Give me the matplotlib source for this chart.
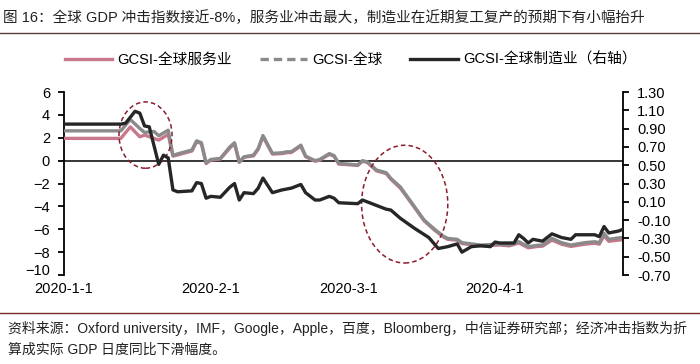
import matplotlib
matplotlib.use("Agg")
import matplotlib.pyplot as plt
import matplotlib.dates as mdates
import matplotlib.transforms as mtransforms
from matplotlib.patches import Ellipse
from matplotlib.lines import Line2D
import pandas as pd

plt.rcParams['font.family'] = ['Liberation Sans', 'Noto Sans CJK SC', 'DejaVu Sans']

# left axis series (global / services), shared dates
dates_lr = ['2020-01-01', '2020-01-13', '2020-01-15', '2020-01-17', '2020-01-18', '2020-01-20',
            '2020-01-21', '2020-01-23', '2020-01-24', '2020-01-25', '2020-01-28', '2020-01-29',
            '2020-01-30', '2020-01-31', '2020-02-01', '2020-02-03', '2020-02-05', '2020-02-06',
            '2020-02-07', '2020-02-08', '2020-02-10', '2020-02-11', '2020-02-12', '2020-02-14',
            '2020-02-16', '2020-02-17', '2020-02-18', '2020-02-20', '2020-02-21', '2020-02-23',
            '2020-02-24', '2020-02-26', '2020-02-27', '2020-02-28', '2020-03-01', '2020-03-03',
            '2020-03-04', '2020-03-05', '2020-03-07', '2020-03-09', '2020-03-10', '2020-03-12',
            '2020-03-15', '2020-03-17', '2020-03-19', '2020-03-21', '2020-03-22', '2020-03-24',
            '2020-03-25', '2020-03-29', '2020-04-02', '2020-04-04', '2020-04-06', '2020-04-08',
            '2020-04-10', '2020-04-11', '2020-04-13', '2020-04-15', '2020-04-17', '2020-04-20',
            '2020-04-22', '2020-04-23', '2020-04-24', '2020-04-25', '2020-04-28']

gcsi_global = [2.61, 2.61, 3.6, 2.82, 2.47, 2.56, 2.18, 2.67, 0.45, 0.6, 0.93, 1.74,
               1.57, -0.18, 0.11, 0.2, 1.2, 1.57, -0.1, 0.34, 0.49, 1.07, 2.2, 0.64,
               0.69, 0.78, 0.78, 1.36, 0.4, 0.0, 0.11, 0.62, 0.45, -0.24, -0.3, -0.38,
               0.0, -0.1, -0.82, -1.05, -1.55, -2.3, -4.03, -5.19, -5.92, -6.59, -6.8, -6.88,
               -7.17, -7.38, -7.29, -7.38, -7.09, -7.52, -7.4, -7.38, -6.8, -7.17, -7.38, -7.17,
               -7.09, -7.17, -6.36, -6.88, -6.7]

gcsi_services = [1.95, 1.95, 2.96, 2.09, 2.24, 1.95, 1.8, 2.3, 0.4, 0.5, 0.85, 1.65,
                 1.5, -0.25, 0.05, 0.15, 1.1, 1.5, -0.15, 0.3, 0.42, 1.0, 2.1, 0.58,
                 0.62, 0.7, 0.72, 1.28, 0.35, -0.05, 0.05, 0.55, 0.4, -0.3, -0.35, -0.42,
                 -0.05, -0.15, -0.9, -1.12, -1.62, -2.4, -4.1, -5.25, -6.0, -6.65, -6.88, -6.95,
                 -7.25, -7.45, -7.38, -7.45, -7.2, -7.62, -7.5, -7.48, -6.95, -7.3, -7.5, -7.3,
                 -7.22, -7.3, -6.55, -7.05, -6.9]

# manufacturing, right axis
dates_mfg = ['2020-01-01', '2020-01-13', '2020-01-14', '2020-01-16', '2020-01-17', '2020-01-18',
             '2020-01-19', '2020-01-21', '2020-01-22', '2020-01-23', '2020-01-24', '2020-01-25',
             '2020-01-28', '2020-01-29', '2020-01-30', '2020-01-31', '2020-02-01', '2020-02-03',
             '2020-02-05', '2020-02-06', '2020-02-07', '2020-02-08', '2020-02-10', '2020-02-11',
             '2020-02-12', '2020-02-14', '2020-02-16', '2020-02-17', '2020-02-18', '2020-02-20',
             '2020-02-21', '2020-02-23', '2020-02-24', '2020-02-26', '2020-02-27', '2020-02-28',
             '2020-03-03', '2020-03-04', '2020-03-06', '2020-03-08', '2020-03-09', '2020-03-10',
             '2020-03-12', '2020-03-15', '2020-03-18', '2020-03-20', '2020-03-22', '2020-03-24',
             '2020-03-25', '2020-03-27', '2020-03-29', '2020-03-31', '2020-04-01', '2020-04-02',
             '2020-04-05', '2020-04-06', '2020-04-07', '2020-04-08', '2020-04-09', '2020-04-11',
             '2020-04-13', '2020-04-15', '2020-04-17', '2020-04-18', '2020-04-22', '2020-04-23',
             '2020-04-24', '2020-04-25', '2020-04-27', '2020-04-28']

gcsi_mfg = [0.95, 0.95, 0.96, 1.09, 1.07, 0.93, 0.92, 0.51, 0.61, 0.58, 0.23, 0.21,
            0.22, 0.31, 0.30, 0.14, 0.16, 0.15, 0.26, 0.30, 0.12, 0.20, 0.19, 0.25,
            0.36, 0.20, 0.23, 0.24, 0.25, 0.29, 0.20, 0.12, 0.12, 0.16, 0.14, 0.09,
            0.08, 0.12, 0.08, 0.04, 0.02, 0.01, -0.08, -0.19, -0.29, -0.41, -0.39, -0.36,
            -0.45, -0.39, -0.38, -0.39, -0.34, -0.35, -0.35, -0.26, -0.30, -0.35, -0.31, -0.33,
            -0.25, -0.29, -0.31, -0.26, -0.26, -0.28, -0.17, -0.24, -0.22, -0.20]

left_ticks = [-10, -8, -6, -4, -2, 0, 2, 4, 6]
right_ticks = [-0.7, -0.5, -0.3, -0.1, 0.1, 0.3, 0.5, 0.7, 0.9, 1.1, 1.3]
x_ticks = ['2020-01-01', '2020-02-01', '2020-03-01', '2020-04-01']
x_labels = ['2020-1-1', '2020-2-1', '2020-3-1', '2020-4-1']

title = '图 16：全球 GDP 冲击指数接近-8%，服务业冲击最大，制造业在近期复工复产的预期下有小幅抬升'
source = ('资料来源：Oxford university，IMF，Google，Apple，百度，Bloomberg，中信证券研究部；经济冲击指数为折\n'
          '算成实际 GDP 日度同比下滑幅度。')

c_pink = '#c8788a'
c_gray = '#8a8a8a'
c_black = '#262626'
c_red = '#8b1c2c'

x_lr = pd.to_datetime(dates_lr)
x_mfg = pd.to_datetime(dates_mfg)

fig = plt.figure(figsize=(7, 3.64), dpi=100)
ax = fig.add_axes([0.0914, 0.2445, 0.7986, 0.5025])
ax2 = ax.twinx()

ax.plot(x_lr, gcsi_services, color=c_pink, lw=2.4, zorder=3)
ax.plot(x_lr, gcsi_global, color=c_gray, lw=2.4, zorder=4)
ax.axhline(0, color='black', lw=1.1, zorder=2)
ax2.plot(x_mfg, gcsi_mfg, color=c_black, lw=2.4, zorder=5)

ax.set_xlim(pd.Timestamp('2020-01-01'), pd.Timestamp('2020-04-28'))
ax.set_ylim(-10, 6)
ax2.set_ylim(-0.7, 1.3)
ax.set_yticks(left_ticks)
ax2.set_yticks(right_ticks)
ax2.set_yticklabels(['%.2f' % v for v in right_ticks])
ax.set_xticks(pd.to_datetime(x_ticks))
ax.set_xticklabels(x_labels)

for a in (ax, ax2):
    a.spines['top'].set_visible(False)
    a.spines['bottom'].set_visible(False)
    a.tick_params(axis='y', direction='out', length=4, width=1.3, labelsize=10.5, pad=6)
    a.tick_params(axis='x', length=0, labelsize=10.5, pad=5)
ax.spines['right'].set_visible(False)
ax2.spines['left'].set_visible(False)
ax.spines['left'].set_linewidth(1.3)
ax2.spines['right'].set_linewidth(1.3)

# lowest left label sits a little higher, as in the original
lab = ax.get_yticklabels()[0]
lab.set_transform(lab.get_transform() + mtransforms.ScaledTranslation(0, 4 / 72, fig.dpi_scale_trans))

# highlight ellipses
ax.add_patch(Ellipse((mdates.date2num(pd.Timestamp('2020-01-18 05:00')), 2.24), 11.2, 5.8,
                     fill=False, ls=(0, (3, 2)), lw=1.1, edgecolor=c_red, zorder=6))
ax.add_patch(Ellipse((mdates.date2num(pd.Timestamp('2020-03-12 22:00')), -3.8), 18.2, 10.3,
                     fill=False, ls=(0, (3, 2)), lw=1.1, edgecolor=c_red, zorder=6))

handles = [Line2D([], [], color=c_pink, lw=2.4),
           Line2D([], [], color=c_gray, lw=2.4, ls=(0, (2.5, 1.5))),
           Line2D([], [], color=c_black, lw=2.4)]
labels = ['GCSI-全球服务业', 'GCSI-全球', 'GCSI-全球制造业（右轴）']
fig.legend(handles, labels, loc='center', bbox_to_anchor=(0.501, 1 - 60 / 364), ncol=3,
           frameon=False, fontsize=10.6, handlelength=3.2, handletextpad=0.35,
           columnspacing=1.9)

fig.text(0.004, 1 - 18 / 364, title, fontsize=10.5, va='center', ha='left', color='#222222')
fig.add_artist(Line2D([0.0, 1.0], [1 - 33 / 364, 1 - 33 / 364], color='#5a3a3a', lw=1.0))
fig.add_artist(Line2D([0.0, 1.0], [1 - 313 / 364, 1 - 313 / 364], color='#7a2a2a', lw=1.0))
fig.text(0.012, 1 - 339 / 364, source, fontsize=10, va='center', ha='left',
         color='#222222', linespacing=1.6)

fig.savefig('out.png', dpi=100)
